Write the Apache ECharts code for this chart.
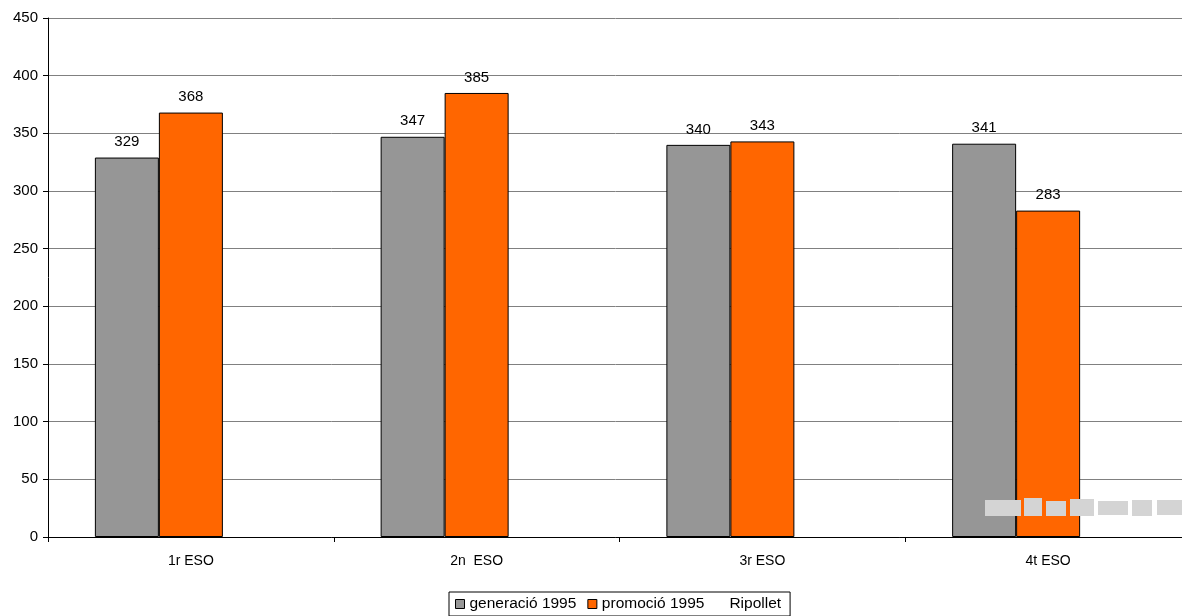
<!DOCTYPE html>
<html>
<head>
<meta charset="utf-8">
<script src="https://cdn.jsdelivr.net/npm/echarts@6/dist/echarts.min.js"></script>
<style>
  html, body { margin: 0; padding: 0; background: #fff; }
  #chart { width: 1182px; height: 616px; }
</style>
</head>
<body>
<div id="chart"></div>
<script>
// Dades del gràfic
const cursos = ['1r ESO', '2n  ESO', '3r ESO', '4t ESO'];
const generacio1995 = [329, 347, 340, 341];
const promocio1995 = [368, 385, 343, 283];
const ripollet = [null, null, null, null]; // sèrie sense valors a l'original
const ticksY = [0, 50, 100, 150, 200, 250, 300, 350, 400, 450];

const chart = echarts.init(document.getElementById('chart'));

const etiqueta = {
    show: true,
    position: 'top',
    distance: 8,
    color: '#000',
    fontSize: 15,
    fontFamily: 'Liberation Sans, Arial, sans-serif'
};

// blocs grisos de la marca d'aigua (il·legible a l'original)
const marca = [
    [985, 500, 36, 16], [1024, 498, 18, 18], [1046, 501, 20, 15], [1070, 499, 24, 17],
    [1098, 501, 30, 14], [1132, 500, 20, 16], [1157, 500, 25, 15]
].map(([x, y, w, h]) => ({
    type: 'rect',
    shape: { x: x, y: y, width: w, height: h },
    style: { fill: '#d4d4d4' },
    z: 100
}));

chart.setOption({
    animation: false,
    textStyle: { fontFamily: 'Liberation Sans, Arial, sans-serif' },
    grid: { left: 48, right: -9, top: 18, bottom: 79, outerBoundsMode: 'none', containLabel: false },
    legend: {
        bottom: 0,
        left: 449,
        itemWidth: 9,
        itemHeight: 9,
        itemGap: 11,
        padding: [4, 9, 4, 6],
        borderColor: '#000',
        borderWidth: 1,
        borderRadius: 0,
        textStyle: { fontSize: 15.5, color: '#000' },
        data: [
            { name: 'generació 1995', icon: 'rect', itemStyle: { color: '#969696', borderColor: '#000', borderWidth: 1 } },
            { name: 'promoció 1995', icon: 'rect', itemStyle: { color: '#FF6600', borderColor: '#000', borderWidth: 1 } },
            { name: 'Ripollet', icon: 'rect', itemStyle: { color: 'rgba(0,0,0,0)', borderWidth: 0 } }
        ]
    },
    xAxis: {
        type: 'category',
        data: cursos,
        axisLine: { lineStyle: { color: '#000' } },
        axisTick: { show: true, length: 5, interval: 0, lineStyle: { color: '#000' } },
        axisLabel: { color: '#000', fontSize: 14, margin: 17 }
    },
    yAxis: {
        type: 'value',
        min: ticksY[0],
        max: ticksY[ticksY.length - 1],
        interval: 50,
        axisLine: { show: true, lineStyle: { color: '#000' } },
        axisTick: { show: true, length: 5, lineStyle: { color: '#000' } },
        axisLabel: { color: '#000', fontSize: 15, margin: 10 },
        splitLine: { lineStyle: { color: '#808080', width: 1 } }
    },
    series: [
        {
            name: 'generació 1995',
            type: 'bar',
            data: generacio1995,
            barWidth: 64,
            barGap: '0%',
            itemStyle: { color: '#969696', borderColor: '#000', borderWidth: 1 },
            label: etiqueta
        },
        {
            name: 'promoció 1995',
            type: 'bar',
            data: promocio1995,
            barWidth: 64,
            barGap: '0%',
            itemStyle: { color: '#FF6600', borderColor: '#000', borderWidth: 1 },
            label: etiqueta
        },
        {
            name: 'Ripollet',
            type: 'bar',
            data: ripollet,
            barWidth: 64,
            barGap: '0%',
            itemStyle: { color: 'rgba(0,0,0,0)' }
        }
    ],
    graphic: marca
});
</script>
</body>
</html>
